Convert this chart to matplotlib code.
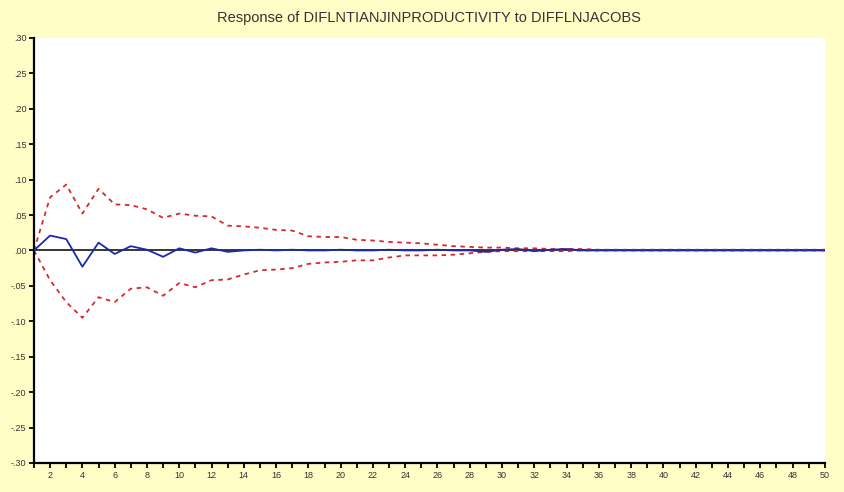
import matplotlib.pyplot as plt
import numpy as np

plt.rcParams['font.family'] = ['Liberation Sans', 'DejaVu Sans']

# impulse response and +/- 2 s.e. bands, periods 1..50
periods = np.arange(1, 51)
response = [0.000, 0.021, 0.016, -0.023, 0.011, -0.005, 0.006, 0.001, -0.009, 0.003,
            -0.003, 0.003, -0.002, 0.000, 0.001, 0.000, 0.001, 0.000, 0.000, 0.001,
            0.000, 0.000, 0.001, 0.000, 0.000, 0.001, 0.000, 0.000, -0.002, 0.001,
            0.002, -0.001, 0.001, 0.002, 0.000, 0.000, 0.000, 0.000, 0.000, 0.000,
            0.000, 0.000, 0.000, 0.000, 0.000, 0.000, 0.000, 0.000, 0.000, 0.000]
upper = [0.000, 0.075, 0.093, 0.052, 0.087, 0.065, 0.064, 0.058, 0.046, 0.052,
         0.049, 0.048, 0.035, 0.034, 0.032, 0.029, 0.028, 0.020, 0.019, 0.019,
         0.015, 0.014, 0.012, 0.011, 0.010, 0.008, 0.006, 0.005, 0.004, 0.004,
         0.003, 0.003, 0.002, 0.002, 0.002, 0.001, 0.001, 0.001, 0.001, 0.001,
         0.001, 0.001, 0.001, 0.001, 0.001, 0.001, 0.001, 0.001, 0.001, 0.001]
lower = [0.000, -0.042, -0.073, -0.095, -0.066, -0.073, -0.054, -0.052, -0.064, -0.046,
         -0.052, -0.042, -0.041, -0.034, -0.028, -0.027, -0.025, -0.019, -0.017, -0.016,
         -0.014, -0.014, -0.010, -0.007, -0.007, -0.007, -0.006, -0.004, -0.002, -0.001,
         -0.001, -0.001, -0.001, -0.001, 0.000, 0.000, 0.000, 0.000, 0.000, 0.000,
         0.000, 0.000, 0.000, 0.000, 0.000, 0.000, 0.000, 0.000, 0.000, 0.000]

y_ticks = [0.30, 0.25, 0.20, 0.15, 0.10, 0.05, 0.00, -0.05, -0.10, -0.15, -0.20, -0.25, -0.30]
y_labels = ['.30', '.25', '.20', '.15', '.10', '.05', '.00',
            '-.05', '-.10', '-.15', '-.20', '-.25', '-.30']

fig = plt.figure(figsize=(8.45, 4.92), dpi=100, facecolor='#FFFEC6')
ax = fig.add_axes([0.0402, 0.059, 0.936, 0.864])
ax.set_facecolor('white')

ax.axhline(0, color='black', lw=1.1, zorder=1)
ax.plot(periods, upper, color='#d42a2a', lw=1.3, ls=(0, (2.5, 2.5)), zorder=2)
ax.plot(periods, lower, color='#d42a2a', lw=1.3, ls=(0, (2.5, 2.5)), zorder=2)
ax.plot(periods, response, color='#1c2aa8', lw=1.3, zorder=3)

ax.set_xlim(1, 50)
ax.set_ylim(-0.30, 0.30)
ax.set_yticks(y_ticks)
ax.set_yticklabels(y_labels)
ax.set_xticks(periods)
ax.set_xticklabels([str(p) if p % 2 == 0 else '' for p in periods])

for side in ['top', 'right']:
    ax.spines[side].set_visible(False)
for side in ['left', 'bottom']:
    ax.spines[side].set_linewidth(1.6)
ax.tick_params(axis='both', direction='out', length=3.5, width=1.3,
               labelsize=6.5, pad=2, colors='black', labelcolor='#333333')

fig.text(0.508, 0.963, 'Response of DIFLNTIANJINPRODUCTIVITY to DIFFLNJACOBS',
         ha='center', va='center', fontsize=10.5, color='#333333')

fig.savefig('out.png', dpi=100, facecolor=fig.get_facecolor())
